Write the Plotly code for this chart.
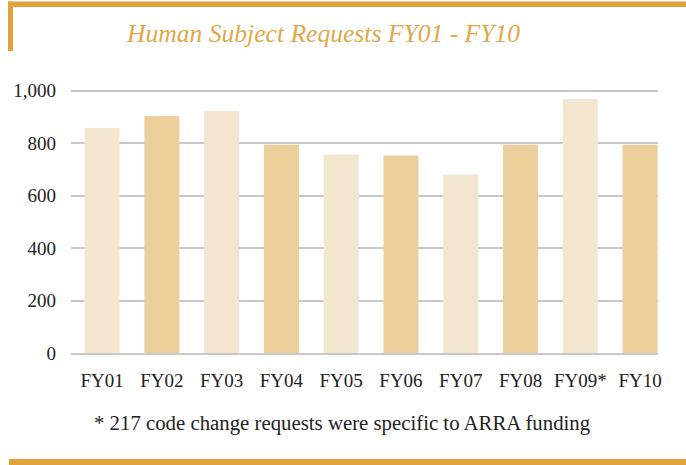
import plotly.graph_objects as go

categories = ["FY01", "FY02", "FY03", "FY04", "FY05", "FY06", "FY07", "FY08", "FY09*", "FY10"]
requests = [858, 903, 922, 793, 756, 752, 680, 793, 968, 793]
y_ticks = [0, 200, 400, 600, 800, 1000]
y_tick_labels = ["0", "200", "400", "600", "800", "1,000"]

LIGHT = "#F4E5CF"
DARK = "#EDCF9C"
GOLD = "#E0A23A"
SERIF = "Liberation Serif, Times New Roman, serif"

colors = [LIGHT if i % 2 == 0 else DARK for i in range(len(categories))]

fig = go.Figure()
fig.add_trace(go.Bar(
    x=list(range(len(categories))),
    y=requests,
    marker=dict(color=colors, line=dict(width=0)),
    width=0.585,
    hoverinfo="skip",
))

W, H = 686, 465
L, R, T, B = 71, 28, 80, 112
PW, PH = W - L - R, H - T - B


def px_x(x):
    return (x - L) / PW


def px_y(y):
    return (H - B - y) / PH


fig.update_layout(
    width=W, height=H,
    margin=dict(l=L, r=R, t=T, b=B),
    paper_bgcolor="white",
    plot_bgcolor="white",
    showlegend=False,
    font=dict(family=SERIF, color="#222222"),
    xaxis=dict(
        range=[-0.52, 9.3],
        tickmode="array",
        tickvals=list(range(len(categories))),
        ticktext=categories,
        showgrid=False,
        zeroline=False,
        showline=True,
        linecolor="#C8C8C8",
        linewidth=2,
        ticks="",
        tickfont=dict(size=19, family=SERIF, color="#222222"),
        ticklabelstandoff=9,
        fixedrange=True,
    ),
    yaxis=dict(
        range=[0, 1040],
        tickmode="array",
        tickvals=y_ticks,
        ticktext=y_tick_labels,
        showgrid=True,
        gridcolor="#C8C8C8",
        gridwidth=2,
        zeroline=False,
        showline=False,
        ticks="",
        tickfont=dict(size=19, family=SERIF, color="#222222"),
        ticklabelstandoff=14,
        fixedrange=True,
    ),
    title=dict(
        text="<i>Human Subject Requests FY01 - FY10</i>",
        font=dict(size=25.6, family=SERIF, color="#E0A848"),
        x=323.5 / W, xanchor="center",
        y=1 - 33 / H, yanchor="middle",
        xref="container", yref="container",
    ),
)

shapes = [
    # top band
    dict(type="rect", xref="paper", yref="paper",
         x0=px_x(8), x1=px_x(686), y0=px_y(7), y1=px_y(1.5),
         fillcolor=GOLD, line=dict(width=0), layer="above"),
    # left vertical band
    dict(type="rect", xref="paper", yref="paper",
         x0=px_x(8), x1=px_x(13), y0=px_y(51), y1=px_y(1.5),
         fillcolor=GOLD, line=dict(width=0), layer="above"),
    # bottom band
    dict(type="rect", xref="paper", yref="paper",
         x0=px_x(9), x1=px_x(686), y0=px_y(465), y1=px_y(459),
         fillcolor=GOLD, line=dict(width=0), layer="above"),
]
fig.update_layout(shapes=shapes)

fig.add_annotation(
    text="* 217 code change requests were specific to ARRA funding",
    xref="paper", yref="paper",
    x=px_x(341.5), y=px_y(423),
    xanchor="center", yanchor="middle",
    showarrow=False,
    font=dict(size=20.8, family=SERIF, color="#222222"),
)

fig.write_html("out.html", config={"displayModeBar": False},
               post_script="document.body.style.margin='0px';")
